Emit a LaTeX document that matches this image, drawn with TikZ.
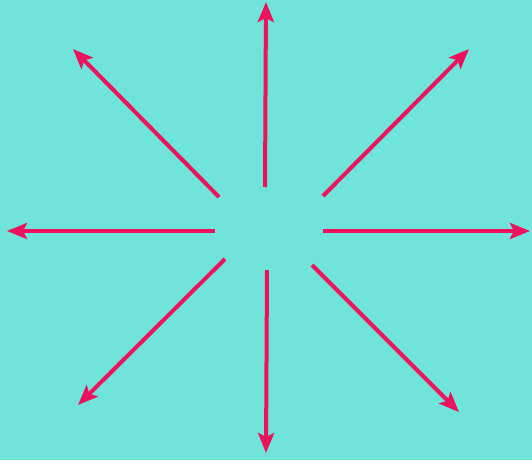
\documentclass[tikz,border=0pt]{standalone}
\usetikzlibrary{arrows.meta}
\definecolor{bgcyan}{RGB}{112,228,218}
\definecolor{ray}{RGB}{236,18,92}
\tikzset{
  rayarrow/.style={draw=ray, line width=4pt, -{Stealth[length=20pt,width=16pt,inset=4pt]}}
}
\begin{document}
\begin{tikzpicture}[x=1pt,y=-1pt]
\fill[bgcyan] (0,0) rectangle (532,460);
\useasboundingbox (0,0) rectangle (532,460);
% inner starts
\coordinate (sU) at (265,187);
\coordinate (sUL) at (219,197);
\coordinate (sUR) at (323,196);
\coordinate (sL) at (215,231);
\coordinate (sR) at (323,231);
\coordinate (sDL) at (225,259);
\coordinate (sD) at (267,270);
\coordinate (sDR) at (312,265);
% tips
\coordinate (tU) at (266,2);
\coordinate (tUL) at (73,49);
\coordinate (tUR) at (469,49);
\coordinate (tL) at (7,231);
\coordinate (tR) at (530,231);
\coordinate (tDL) at (78,405);
\coordinate (tD) at (266,453);
\coordinate (tDR) at (459,412);
\draw[rayarrow] (sU) -- (tU);
\draw[rayarrow] (sUL) -- (tUL);
\draw[rayarrow] (sUR) -- (tUR);
\draw[rayarrow] (sL) -- (tL);
\draw[rayarrow] (sR) -- (tR);
\draw[rayarrow] (sDL) -- (tDL);
\draw[rayarrow] (sD) -- (tD);
\draw[rayarrow] (sDR) -- (tDR);
\end{tikzpicture}
\end{document}
